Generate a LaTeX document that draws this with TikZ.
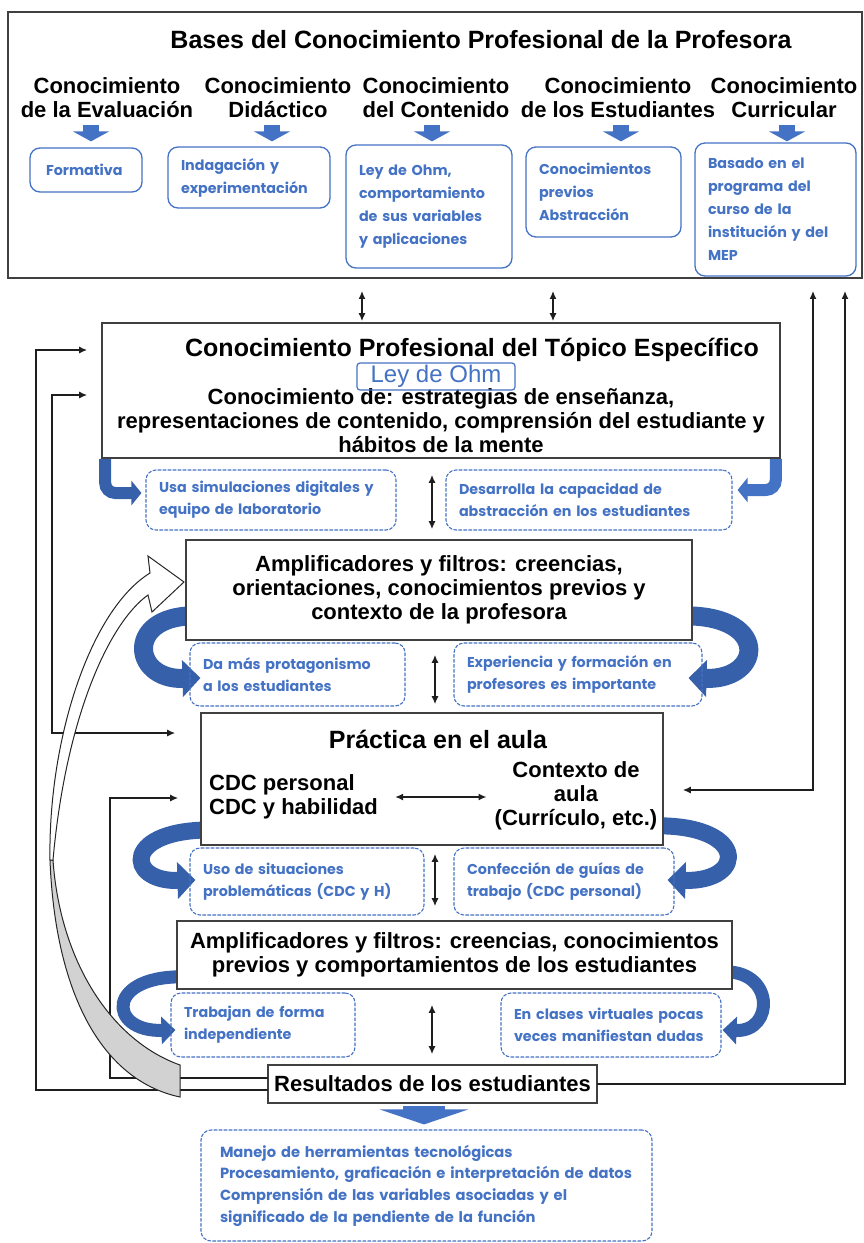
\documentclass[tikz,border=0pt]{standalone}
\usepackage{fontspec}
\setmainfont{Liberation Sans}
\newfontfamily\azulfont{Poppins}
\usetikzlibrary{arrows.meta, backgrounds}

\definecolor{azul}{HTML}{4472C4}
\definecolor{azuloscuro}{HTML}{3660AA}
\definecolor{linea}{HTML}{1E1E1E}

\begin{document}
\begin{tikzpicture}
		[x=1pt,y=-1pt,line cap=round,
		%Styles
		caja/.style={draw=black!75,line width=1.6pt,fill=white,inner sep=0pt},
		titulo/.style={font=\fontsize{25}{28}\selectfont\bfseries,inner sep=0pt},
		texto/.style={font=\fontsize{22}{24}\selectfont\bfseries,align=center,inner sep=0pt},
		nota/.style={draw=azul,line width=1.3pt,rounded corners=10pt,text=azul,align=left,inner xsep=13pt,inner ysep=0pt,font=\azulfont\bfseries\fontsize{14.3}{23}\selectfont},
		punteada/.style={nota,line width=1.1pt,dash pattern=on 3pt off 2pt,font=\azulfont\bfseries\fontsize{14.3}{22}\selectfont},
		flecha/.style={draw=linea,line width=1.5pt,-{Latex[length=8pt,width=7pt]}},
		dflecha/.style={draw=linea,line width=1.5pt,{Latex[length=8pt,width=7pt]}-{Latex[length=8pt,width=7pt]}},
		bajada/.style={draw=azul,line width=16pt,line cap=butt,-{Triangle[length=10pt,width=36pt]}},
		vuelta/.style={draw=azuloscuro,line width=#1,line cap=butt,-{Triangle[length=18pt,width=36pt]}},
		vueltachica/.style={draw=azuloscuro,line width=13pt,line cap=butt,-{Triangle[length=14pt,width=27pt]}}
		]
		\useasboundingbox (0,0) rectangle (863,1243);
		
		%Bases
		\node[caja,line width=1.8pt,minimum width=854pt,minimum height=266pt] (bases) at (435,145) {};
		\node[titulo] (tbases) at (481,40) {Bases del Conocimiento Profesional de la Profesora};
		
		\node[texto] (h1) at (107,98) {Conocimiento\\de la Evaluación};
		\node[texto] (h2) at (278,98) {Conocimiento\\Didáctico};
		\node[texto] (h3) at (436,98) {Conocimiento\\del Contenido};
		\node[texto] (h4) at (618,98) {Conocimiento\\de los Estudiantes};
		\node[texto] (h5) at (784,98) {Conocimiento\\Curricular};
		
		\node[nota,minimum width=112pt,minimum height=44pt,text width=80pt] (b1) at (86,170) {Formativa};
		\node[nota,minimum width=162pt,minimum height=61pt,text width=136pt] (b2) at (249,177.5) {Indagación y\\experimentación};
		\node[nota,minimum width=166pt,minimum height=123pt,text width=140pt] (b3) at (429,206.5) {Ley de Ohm,\\comportamiento\\de sus variables\\y aplicaciones};
		\node[nota,minimum width=155pt,minimum height=90pt,text width=129pt] (b4) at (603.5,192) {Conocimientos\\previos\\Abstracción};
		\node[nota,minimum width=161pt,minimum height=133pt,text width=135pt] (b5) at (775.5,209.5) {Basado en el\\programa del\\curso de la\\institución y del\\MEP};
		
		\draw[bajada,shorten >=6pt] ([xshift=-16pt]h1.south |- 0,125) -- ([xshift=-16pt]h1.south |- b1.north);
		\draw[bajada,shorten >=5pt] ([xshift=-6pt]h2.south |- 0,125) -- ([xshift=-6pt]h2.south |- b2.north);
		\draw[bajada,shorten >=3pt] ([xshift=-4pt]h3.south |- 0,125) -- ([xshift=-4pt]h3.south |- b3.north);
		\draw[bajada,shorten >=5pt] ([xshift=3pt]h4.south |- 0,125) -- ([xshift=3pt]h4.south |- b4.north);
		\draw[bajada,shorten >=1pt] ([xshift=3pt]h5.south |- 0,125) -- ([xshift=3pt]h5.south |- b5.north);
		
		%Topico especifico
		\node[caja,minimum width=678pt,minimum height=135pt] (cpte) at (441,390.5) {};
		\node[titulo] (tcpte) at (472,350) {Conocimiento Profesional del Tópico Específico};
		\node[texto] (dcpte) at (441,421) {Conocimiento de: estrategias de enseñanza,\\representaciones de contenido, comprensión del estudiante y\\hábitos de la mente};
		\node[draw=azul,line width=1.2pt,rounded corners=3pt,minimum width=158pt,minimum height=27pt,inner sep=0pt,text=azul,font=\fontsize{24}{26}\selectfont] (ohm) at (436,376.5) {Ley de Ohm};
		
		\node[punteada,minimum width=250pt,minimum height=60pt,text width=224pt] (u1) at (271,500) {Usa simulaciones digitales y\\equipo de laboratorio};
		\node[punteada,minimum width=286pt,minimum height=60pt,text width=260pt] (u2) at (589,500) {Desarrolla la capacidad de\\abstracción en los estudiantes};
		
		%Amplificadores de la profesora
		\node[caja,texto,minimum width=506pt,minimum height=100pt] (amp1) at (439,590) {Amplificadores y filtros: creencias,\\orientaciones, conocimientos previos y\\contexto de la profesora};
		\node[punteada,minimum width=215pt,minimum height=63pt,text width=189pt] (d1) at (297.5,674.5) {Da más protagonismo\\a los estudiantes};
		\node[punteada,minimum width=248pt,minimum height=63pt,text width=222pt] (d2) at (578,674.5) {Experiencia y formación en\\profesores es importante};
		
		%Practica
		\node[caja,minimum width=462pt,minimum height=132pt] (prac) at (432,779) {};
		\node[titulo] (tprac) at (438,739) {Práctica en el aula};
		\node[texto,align=left,anchor=west] (cdc) at (209,797) {CDC personal\\CDC y habilidad};
		\node[texto] (ctx) at (576,796) {Contexto de\\aula\\(Currículo, etc.)};
		\draw[dflecha,shorten <=17pt,shorten >=8pt] (cdc.east) -- (cdc.east -| ctx.west);
		
		\node[punteada,minimum width=234pt,minimum height=67pt,text width=208pt] (p1) at (307,881.5) {Uso de situaciones\\problemáticas (CDC y H)};
		\node[punteada,minimum width=220pt,minimum height=67pt,text width=194pt] (p2) at (564,881.5) {Confección de guías de\\trabajo (CDC personal)};
		
		%Amplificadores de los estudiantes
		\node[caja,texto,minimum width=555pt,minimum height=68pt] (amp2) at (454.5,955) {Amplificadores y filtros: creencias, conocimientos\\previos y comportamientos de los estudiantes};
		\node[punteada,minimum width=184pt,minimum height=64pt,text width=158pt] (t1) at (263,1025) {Trabajan de forma\\independiente};
		\node[punteada,minimum width=220pt,minimum height=64pt,text width=194pt] (t2) at (611,1025) {En clases virtuales pocas\\veces manifiestan dudas};
		
		%Resultados
		\node[caja,texto,minimum width=329pt,minimum height=38pt] (res) at (432.5,1084) {Resultados de los estudiantes};
		\node[punteada,minimum width=451pt,minimum height=111pt,text width=413pt,inner xsep=19pt,font=\azulfont\bfseries\fontsize{14.7}{21.7}\selectfont] (r1) at (426.5,1185.5) {Manejo de herramientas tecnológicas\\Procesamiento, graficación e interpretación de datos\\Comprensión de las variables asociadas y el\\significado de la pendiente de la función};
		
		%Flechas entre niveles
		\draw[dflecha,shorten <=12pt,shorten >=1pt] (bases.south -| 362,0) -- (cpte.north -| 362,0);
		\draw[dflecha,shorten <=12pt,shorten >=1pt] (bases.south -| 553,0) -- (cpte.north -| 553,0);
		\draw[dflecha,shorten <=16pt,shorten >=10pt] (cpte.south -| 432,0) -- (amp1.north -| 432,0);
		\draw[dflecha,shorten <=14pt,shorten >=8pt] (amp1.south -| 435,0) -- (prac.north -| 435,0);
		\draw[dflecha,shorten <=8pt,shorten >=14pt] (prac.south -| 435,0) -- (amp2.north -| 435,0);
		\draw[dflecha,shorten <=15pt,shorten >=10pt] (amp2.south -| 432,0) -- (res.north -| 432,0);
		
		\draw[draw=azul,line width=42pt,line cap=butt,-{Triangle[length=15pt,width=88pt]}] ([yshift=-2pt]res.south -| 424,0) -- ([yshift=5pt]r1.north -| 424,0);
		
		%Retroalimentacion
		\draw[flecha] ([yshift=-6pt]res.west) -| (36,350) -- ([xshift=-14pt]cpte.west |- 36,350);
		\draw[dflecha] ([xshift=-14pt]cpte.west |- 52,395) -| (52,733) -- ([xshift=-25pt]prac.west |- 52,733);
		\draw[flecha] ([yshift=6pt]res.west) -| (110,798) -- ([xshift=-22pt]prac.west |- 110,798);
		\draw[flecha] (res.east) -| ([yshift=-12pt]bases.south -| 845,0);
		\draw[dflecha] ([yshift=-12pt]bases.south -| 813,0) |- ([xshift=19pt]prac.east |- 813,790);
		
		%Flecha curva grande
		\filldraw[draw=black!85,line width=1pt,fill=gray!35] (53,860) .. controls (60,960) and (110,1040) .. (180,1065) -- (180,1097) .. controls (100,1080) and (55,990) .. (50,860) -- cycle;
		\filldraw[draw=black!85,line width=1pt,fill=white] (50,860) .. controls (48,740) and (90,610) .. (150,573) -- (148,556) -- (184,582) -- (152,612) -- (148,595) .. controls (110,622) and (66,715) .. (53,860) -- cycle;
		
		%Flechas azules
		\begin{scope}[on background layer]
			\draw[draw=azuloscuro,line width=12pt,line cap=butt,rounded corners=10pt,-{Triangle[length=10pt,width=24pt]}] ([xshift=4pt]cpte.south west) |- ([xshift=-4pt,yshift=7pt]u1.west);
			\draw[draw=azul,line width=12pt,line cap=butt,rounded corners=10pt,-{Triangle[length=10pt,width=24pt]}] ([xshift=-5pt]cpte.south east) |- ([xshift=5pt,yshift=10pt]u2.east);
			\draw[vuelta=19pt] ([xshift=15pt,yshift=-26pt]amp1.west) .. controls (125,612) and (130,680) .. ([xshift=11pt,yshift=-3.5pt]d1.west);
			\draw[vuelta=19pt] ([xshift=-15pt,yshift=-26pt]amp1.east) .. controls (770,612) and (765,680) .. ([xshift=-14pt,yshift=-3.5pt]d2.east);
			\draw[vuelta=17pt] ([xshift=15pt,yshift=-51pt]prac.west) .. controls (122,828) and (125,882) .. ([xshift=6pt,yshift=1.5pt]p1.west);
			\draw[vuelta=17pt] ([xshift=-15pt,yshift=-47pt]prac.east) .. controls (748,822) and (748,882) .. ([xshift=-7pt,yshift=1.5pt]p2.east);
			\draw[vueltachica] ([xshift=13pt,yshift=-22pt]amp2.west) .. controls (105,973) and (107,1032) .. ([xshift=5pt,yshift=-5pt]t1.west);
			\draw[vueltachica] ([xshift=-12pt,yshift=-17pt]amp2.east) .. controls (775,968) and (775,1032) .. ([xshift=1pt,yshift=-5pt]t2.east);
		\end{scope}
	\end{tikzpicture}
\end{document}
